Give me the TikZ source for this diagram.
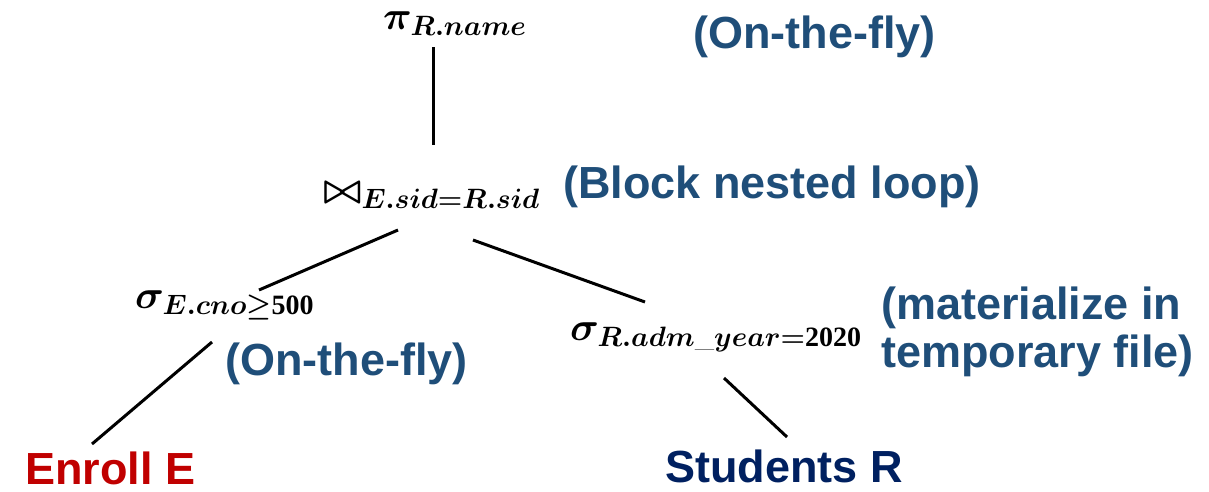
\documentclass[tikz,border=0pt]{standalone}
\usepackage{fix-cm}
\usepackage{amsmath}
\usepackage{fontspec}
\usepackage{xcolor}
\newfontfamily\labelfont{Liberation Sans}
\newfontfamily\digitfont{Liberation Serif}
\newcommand{\bnum}[1]{\text{\digitfont\bfseries #1}}
\DeclareMathSizes{40}{40}{28}{20}
\definecolor{planblue}{RGB}{31,78,121}
\definecolor{enrollred}{RGB}{192,0,0}
\definecolor{tablenavy}{RGB}{0,32,96}
\tikzset{op/.style={inner sep=0,anchor=base west,font=\fontsize{40}{48}\selectfont\boldmath},
 note/.style={inner sep=0,anchor=base west,text=planblue,
   font=\labelfont\bfseries\fontsize{45}{48}\selectfont},
 rel/.style={note,text=#1},
 edge/.style={draw,line width=3pt},
 }
\usetikzlibrary{calc}

\begin{document}
\begin{tikzpicture}[x=1pt,y=-1pt]
    \useasboundingbox (0,0) rectangle (1209,491);
    % operators
    \node[op] (pi) at (383,29) {$\pi_{R.name}$};
    \node[op] (join) at (323,202) {$\bowtie_{E.sid=R.sid}$};
    \node[op] (selE) at (135,308) {$\sigma_{E.cno\geq\bnum{500}}$};
    \node[op] (selR) at (570,340) {$\sigma_{R.adm\_year=\bnum{2020}}$};
    % base tables
    \node[rel=enrollred] (enroll) at (25,484) {Enroll E};
    \node[rel=tablenavy] (students) at (665,482) {Students R};
    % how each operator is evaluated
    \node[note] (piNote) at (693,48) {(On-the-fly)};
    \node[note] (joinNote) at (563,198) {(Block nested loop)};
    \node[note] (selENote) at (225,375) {(On-the-fly)};
    \node[note,anchor=north west,align=left] (selRNote) at (881,287)
        {(materialize in\\temporary file)};
    % tree edges
    \draw[edge] ($(pi.base west)+(50,18)$) -- ($(join.base west)+(110,-57)$);
    \draw[edge] ($(join.base west)+(75,28)$) -- ($(selE.base west)+(124,-18)$);
    \draw[edge] ($(join.base west)+(150,38)$) -- ($(selR.base west)+(75,-38)$);
    \draw[edge] ($(selE.base west)+(77,34)$) -- ($(enroll.base west)+(67,-40)$);
    \draw[edge] ($(selR.base west)+(154,38)$) -- ($(students.base west)+(122,-45)$);
\end{tikzpicture}
\end{document}
